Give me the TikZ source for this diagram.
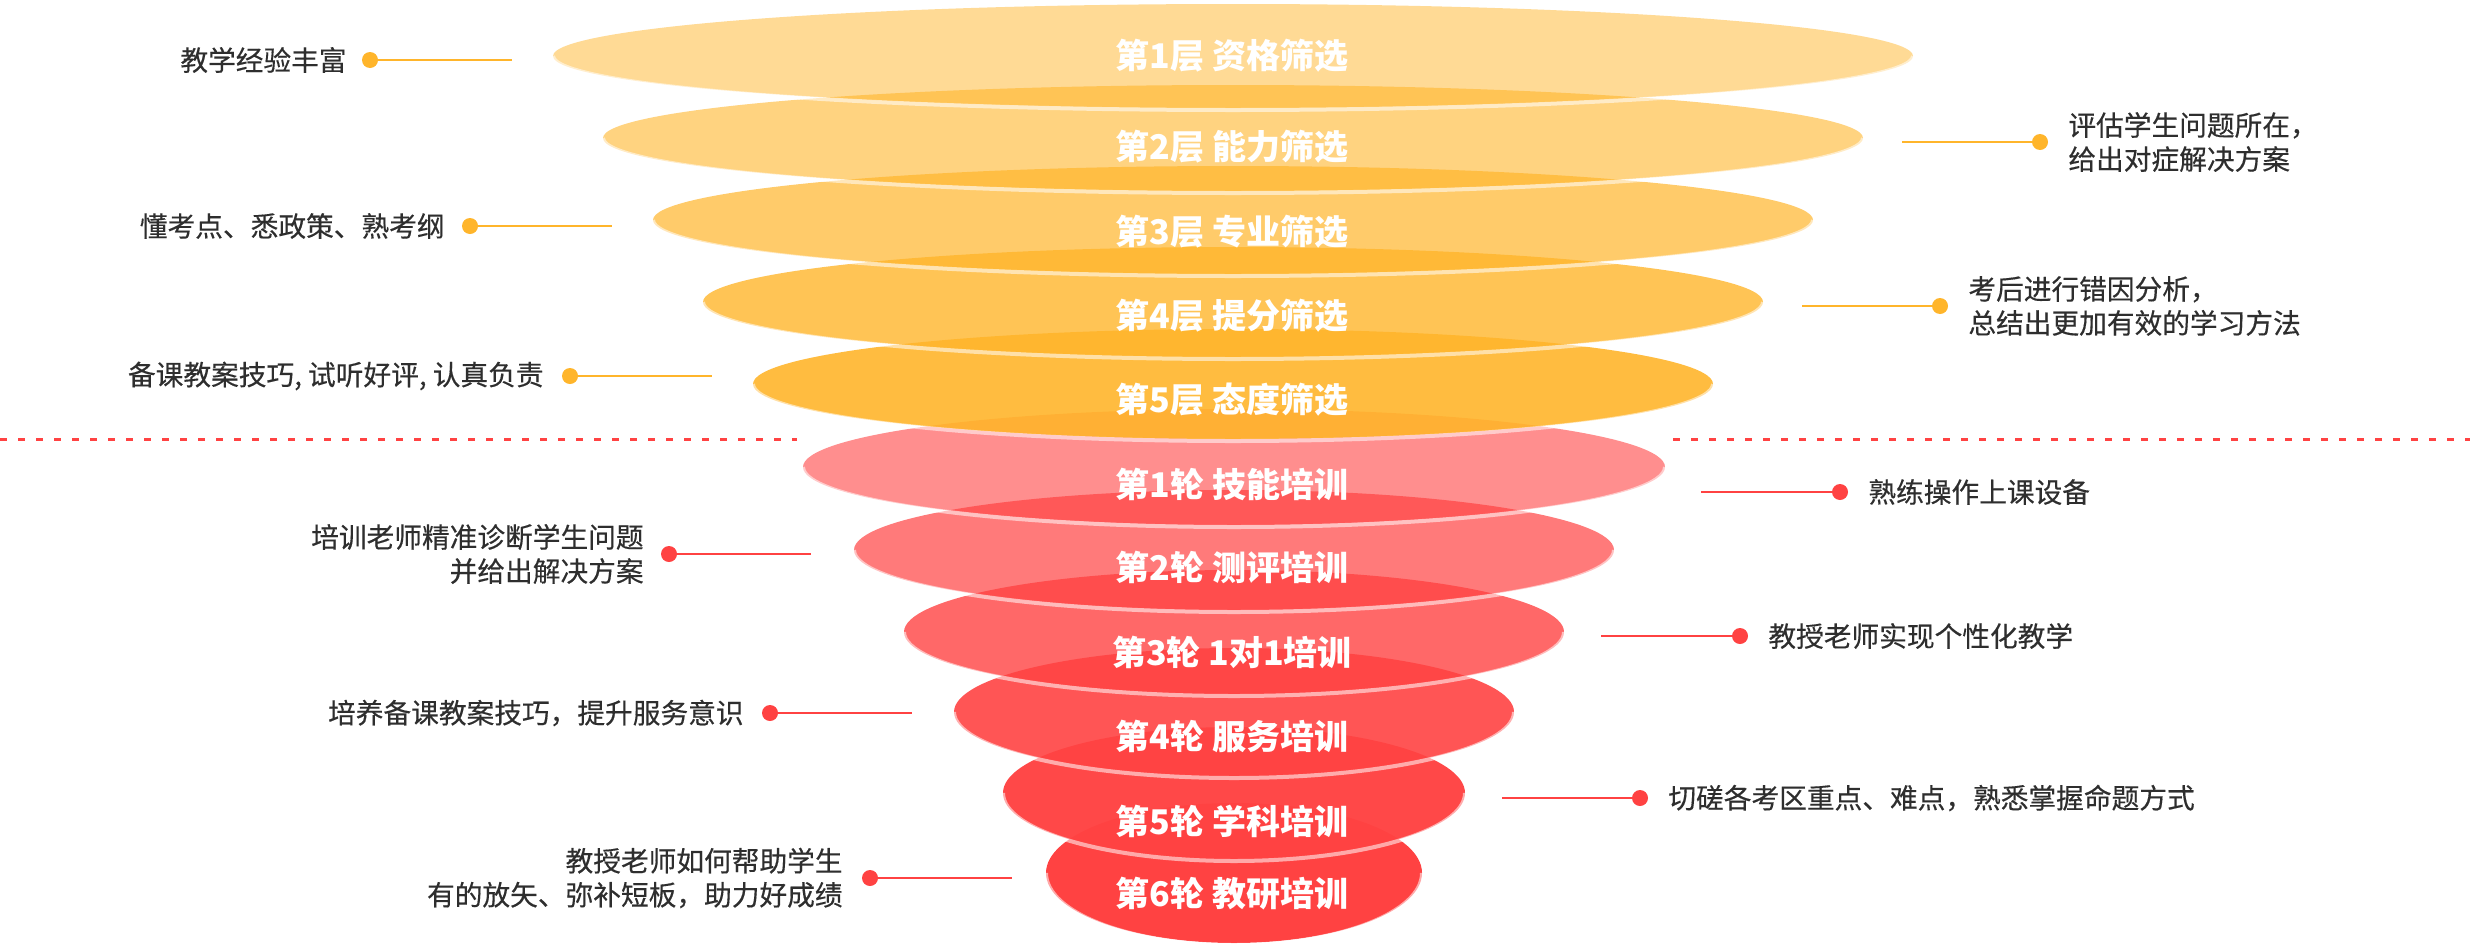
\documentclass[tikz,border=0pt]{standalone}
\usepackage{fontspec}
\setmainfont{Noto Sans CJK SC}
\newfontfamily\notefont{Noto Sans CJK SC}[FakeBold=0.35]
\usetikzlibrary{shapes.geometric,positioning}

\definecolor{gold}{HTML}{FFB52B}
\definecolor{rose}{HTML}{FF4242}
\definecolor{ink}{HTML}{2E2E2E}

\begin{document}
\begin{tikzpicture}
[
  x=1pt, y=-1pt,
  layer/.style={ellipse, inner sep=0pt, outer sep=0pt, draw=none},
  goldlayer/.style={layer, fill=gold, fill opacity=#1},
  redlayer/.style={layer, fill=rose, fill opacity=#1},
  rim/.style={draw=white, draw opacity=0.55, line width=4pt},
  title/.style={text=white, inner sep=0pt, font=\bfseries\fontsize{34}{40}\selectfont},
  gdot/.style={circle, fill=gold, inner sep=0pt, minimum size=16pt},
  rdot/.style={circle, fill=rose, inner sep=0pt, minimum size=16pt},
  gline/.style={draw=gold, line width=2.5pt},
  rline/.style={draw=rose, line width=2.5pt},
  divider/.style={draw=rose, line width=3pt, dash pattern=on 7pt off 11pt},
  note/.style={text=ink, inner sep=0pt, font=\notefont\fontsize{27.7}{34}\selectfont}
]
  \useasboundingbox (0,0) rectangle (2470,948);

  % training rounds, lowest first
  \node[redlayer=1.0, minimum width=376pt, minimum height=140pt] (r6) at (1234,873) {};
  \draw[rim] (r6.west) arc[start angle=180, end angle=360, x radius=188pt, y radius=72pt];
  \node[redlayer=0.97, minimum width=462pt, minimum height=132pt] (r5) at (1234,793) {};
  \draw[rim] (r5.west) arc[start angle=180, end angle=360, x radius=231pt, y radius=68pt];
  \node[redlayer=0.9, minimum width=560pt, minimum height=128pt] (r4) at (1234,712) {};
  \draw[rim] (r4.west) arc[start angle=180, end angle=360, x radius=280pt, y radius=66pt];
  \node[redlayer=0.8, minimum width=660pt, minimum height=124pt] (r3) at (1234,632) {};
  \draw[rim] (r3.west) arc[start angle=180, end angle=360, x radius=330pt, y radius=64pt];
  \node[redlayer=0.7, minimum width=760pt, minimum height=120pt] (r2) at (1234,550) {};
  \draw[rim] (r2.west) arc[start angle=180, end angle=360, x radius=380pt, y radius=62pt];
  \node[redlayer=0.6, minimum width=862pt, minimum height=116pt] (r1) at (1234,467) {};
  \draw[rim] (r1.west) arc[start angle=180, end angle=360, x radius=431pt, y radius=60pt];

  % screening layers
  \node[goldlayer=0.9, minimum width=960pt, minimum height=110pt] (l5) at (1233,384) {};
  \draw[rim] (l5.west) arc[start angle=180, end angle=360, x radius=480pt, y radius=57pt];
  \node[goldlayer=0.8, minimum width=1060pt, minimum height=110pt] (l4) at (1233,302) {};
  \draw[rim] (l4.west) arc[start angle=180, end angle=360, x radius=530pt, y radius=57pt];
  \node[goldlayer=0.7, minimum width=1160pt, minimum height=108pt] (l3) at (1233,220) {};
  \draw[rim] (l3.west) arc[start angle=180, end angle=360, x radius=580pt, y radius=56pt];
  \node[goldlayer=0.6, minimum width=1260pt, minimum height=106pt] (l2) at (1233,138) {};
  \draw[rim] (l2.west) arc[start angle=180, end angle=360, x radius=630pt, y radius=55pt];
  \node[goldlayer=0.5, minimum width=1360pt, minimum height=104pt] (l1) at (1233,56) {};
  \draw[rim] (l1.west) arc[start angle=180, end angle=360, x radius=680pt, y radius=54pt];

  % titles
  \node[title] (t1) at (1232,56) {第1层 资格筛选};
  \node[title] (t2) at (1232,147) {第2层 能力筛选};
  \node[title] (t3) at (1232,232) {第3层 专业筛选};
  \node[title] (t4) at (1232,316) {第4层 提分筛选};
  \node[title] (t5) at (1232,400) {第5层 态度筛选};
  \node[title] (t6) at (1232,484) {第1轮 技能培训};
  \node[title] (t7) at (1232,567) {第2轮 测评培训};
  \node[title] (t8) at (1232,652) {第3轮 1对1培训};
  \node[title] (t9) at (1232,736) {第4轮 服务培训};
  \node[title] (t10) at (1232,821) {第5轮 学科培训};
  \node[title] (t11) at (1232,894) {第6轮 教研培训};

  % divider
  \coordinate (dl0) at (0,439);
  \coordinate (dl1) at (797,439);
  \coordinate (dr0) at (1673,439);
  \coordinate (dr1) at (2470,439);
  \draw[divider] (dl0) -- (dl1);
  \draw[divider] (dr0) -- (dr1);

  % notes on the screening side
  \node[gdot] (d1) at (370,60) {};
  \coordinate (e1) at (512,60);
  \draw[gline] (d1.center) -- (e1);
  \node[note, left=15pt of d1] (n1) {教学经验丰富};

  \node[gdot] (d2) at (470,226) {};
  \coordinate (e2) at (612,226);
  \draw[gline] (d2.center) -- (e2);
  \node[note, left=17pt of d2] (n2) {懂考点、悉政策、熟考纲};

  \node[gdot] (d3) at (570,376) {};
  \coordinate (e3) at (712,376);
  \draw[gline] (d3.center) -- (e3);
  \node[note, left=18pt of d3] (n3) {备课教案技巧, 试听好评, 认真负责};

  \node[gdot] (d4) at (2040,142) {};
  \coordinate (e4) at (1902,142);
  \draw[gline] (d4.center) -- (e4);
  \node[note, right=20pt of d4, align=left] (n4) {评估学生问题所在，\\给出对症解决方案};

  \node[gdot] (d5) at (1940,306) {};
  \coordinate (e5) at (1802,306);
  \draw[gline] (d5.center) -- (e5);
  \node[note, right=20pt of d5, align=left] (n5) {考后进行错因分析，\\总结出更加有效的学习方法};

  % notes on the training side
  \node[rdot] (d6) at (1840,492) {};
  \coordinate (e6) at (1701,492);
  \draw[rline] (d6.center) -- (e6);
  \node[note, right=20pt of d6] (n6) {熟练操作上课设备};

  \node[rdot] (d7) at (1740,636) {};
  \coordinate (e7) at (1601,636);
  \draw[rline] (d7.center) -- (e7);
  \node[note, right=20pt of d7] (n7) {教授老师实现个性化教学};

  \node[rdot] (d8) at (1640,798) {};
  \coordinate (e8) at (1502,798);
  \draw[rline] (d8.center) -- (e8);
  \node[note, right=20pt of d8] (n8) {切磋各考区重点、难点，熟悉掌握命题方式};

  \node[rdot] (d9) at (669,554) {};
  \coordinate (e9) at (811,554);
  \draw[rline] (d9.center) -- (e9);
  \node[note, left=17pt of d9, align=right] (n9) {培训老师精准诊断学生问题\\并给出解决方案};

  \node[rdot] (d10) at (770,713) {};
  \coordinate (e10) at (912,713);
  \draw[rline] (d10.center) -- (e10);
  \node[note, left=18pt of d10] (n10) {培养备课教案技巧，提升服务意识};

  \node[rdot] (d11) at (870,878) {};
  \coordinate (e11) at (1012,878);
  \draw[rline] (d11.center) -- (e11);
  \node[note, left=19pt of d11, align=right] (n11) {教授老师如何帮助学生\\有的放矢、弥补短板，助力好成绩};
\end{tikzpicture}
\end{document}
